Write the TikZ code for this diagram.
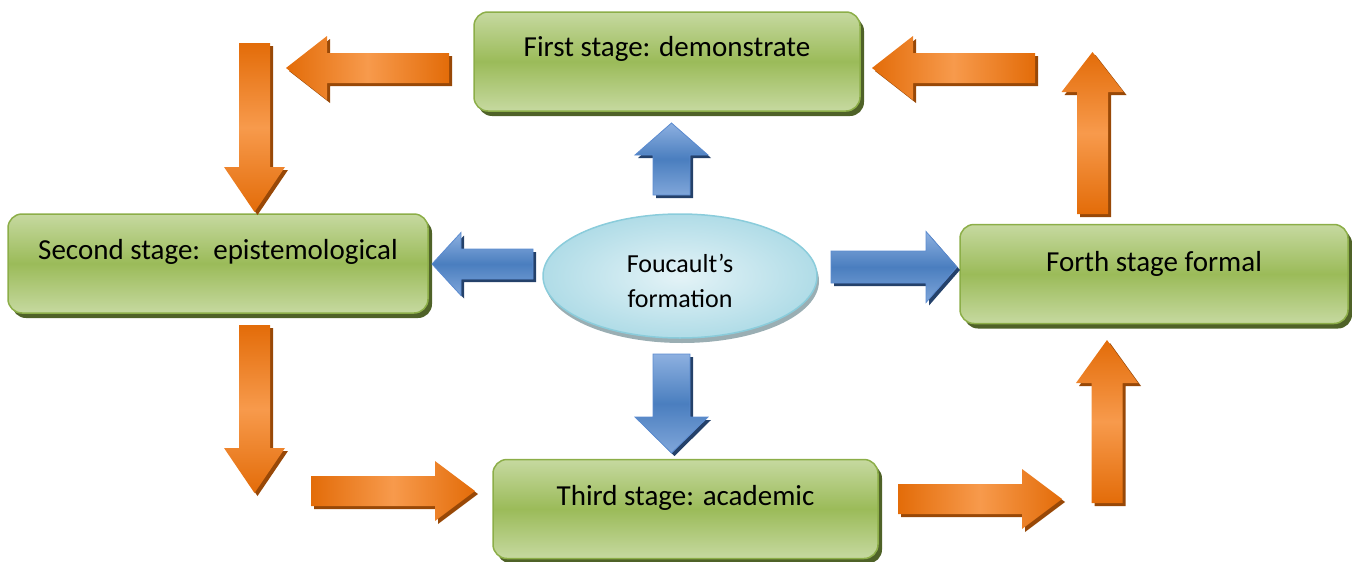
\documentclass[tikz,border=0pt]{standalone}
\usepackage{fontspec}
\setmainfont{Carlito}
\usetikzlibrary{shapes.geometric,shadows}
\definecolor{gfill}{HTML}{9BBB59}
\definecolor{glight}{HTML}{C6D9A0}
\definecolor{gborder}{HTML}{8CAE48}
\definecolor{gshadow}{HTML}{4F6228}
\definecolor{odark}{HTML}{E36C09}
\definecolor{olight}{HTML}{F79A4C}
\definecolor{oshadow}{HTML}{984807}
\definecolor{bdark}{HTML}{4A7EBF}
\definecolor{blight}{HTML}{8DB0E0}
\definecolor{bborder}{HTML}{5B8BD0}
\definecolor{bshadow}{HTML}{24416A}
\definecolor{elight}{HTML}{E4F3F7}
\definecolor{emid}{HTML}{B0DCE7}
\definecolor{eborder}{HTML}{8ACCDB}
\definecolor{eshadow}{HTML}{9AAEB3}
% horizontal block arrow: #1 main style, #2 shadow style, #3 tail x, #4 tip x, #5 centre y, #6 shaft half, #7 head half, #8 head base x
\newcommand\HArr[8]{%
  \path[#2,shift={(3,3)}] (#3,#5-#6) -- (#8,#5-#6) -- (#8,#5-#7) -- (#4,#5) -- (#8,#5+#7) -- (#8,#5+#6) -- (#3,#5+#6) -- cycle;
  \path[#1] (#3,#5-#6) -- (#8,#5-#6) -- (#8,#5-#7) -- (#4,#5) -- (#8,#5+#7) -- (#8,#5+#6) -- (#3,#5+#6) -- cycle;}
% vertical block arrow: #3 tail y, #4 tip y, #5 centre x, #6 shaft half, #7 head half, #8 head base y
\newcommand\VArr[8]{%
  \path[#2,shift={(3,3)}] (#5-#6,#3) -- (#5-#6,#8) -- (#5-#7,#8) -- (#5,#4) -- (#5+#7,#8) -- (#5+#6,#8) -- (#5+#6,#3) -- cycle;
  \path[#1] (#5-#6,#3) -- (#5-#6,#8) -- (#5-#7,#8) -- (#5,#4) -- (#5+#7,#8) -- (#5+#6,#8) -- (#5+#6,#3) -- cycle;}
\tikzset{
  stage/.style={rectangle, rounded corners=14pt, minimum height=99pt,
    top color=glight, bottom color=glight, middle color=gfill,
    draw=gborder, line width=1.5pt,
    general shadow={fill=gshadow, shadow xshift=4pt, shadow yshift=-5pt}},
  lbl/.style={font=\fontsize{29}{34}\selectfont, inner sep=0pt, text=black},
  oh/.style={left color=odark, right color=odark, middle color=olight},
  ov/.style={top color=odark, bottom color=odark, middle color=olight},
  osh/.style={fill=oshadow},
  barrow/.style={top color=blight, bottom color=blight!80!bdark, middle color=bdark, draw=bborder, line width=0.8pt},
  bsh/.style={fill=bshadow},
}
\begin{document}
\begin{tikzpicture}[x=1pt,y=-1pt]
\useasboundingbox (0,0) rectangle (1352,562);
% stage boxes
\node[stage, minimum width=386pt] (s1) at (667,61.5) {};
\node[stage, minimum width=420pt] (s2) at (218,263.5) {};
\node[stage, minimum width=385pt] (s3) at (685.5,509) {};
\node[stage, minimum width=388pt] (s4) at (1154,274) {};
\node[lbl] (t1) at ([yshift=-38pt]s1.north) {First stage: demonstrate};
\node[lbl] (t2) at ([yshift=-39pt]s2.north) {Second stage:\ \ epistemological};
\node[lbl] (t3) at ([yshift=-39pt]s3.north) {Third stage: academic};
\node[lbl] (t4) at ([yshift=-40pt]s4.north) {Forth stage formal};
% centre ellipse
\node[ellipse, minimum width=274pt, minimum height=124pt, inner color=elight, outer color=emid,
  draw=eborder, line width=1.5pt,
  general shadow={fill=eshadow, shadow xshift=2pt, shadow yshift=-5pt}] (c) at (680,276) {};
\node[align=center, inner sep=0pt, font=\fontsize{26}{35}\selectfont] (ct) at ([yshift=-4.5pt]c.center) {Foucault’s\\formation};
% blue arrows
\VArr{barrow}{bsh}{195}{123}{671.5}{18.5}{36.5}{155}
\HArr{barrow}{bsh}{533}{432}{264}{15}{31.5}{461}
\HArr{barrow}{bsh}{831}{957}{267}{16}{35.5}{926}
\VArr{barrow}{bsh}{354}{453}{671.5}{18.5}{36.5}{417}
% orange arrows
\HArr{oh}{osh}{449}{286}{68}{15}{32}{327}
\VArr{ov}{osh}{43}{212}{254.5}{15.5}{30.5}{167}
\VArr{ov}{osh}{325}{493}{254.5}{15.5}{30.5}{448}
\HArr{oh}{osh}{311}{475}{491}{15}{30}{435}
\HArr{oh}{osh}{898}{1062}{499}{15}{30}{1022}
\VArr{ov}{osh}{503}{340}{1107}{15.5}{31}{383}
\VArr{ov}{osh}{214}{52}{1092.5}{15.5}{31}{92}
\HArr{oh}{osh}{1035}{872}{68}{15}{32}{913}
\end{tikzpicture}
\end{document}
